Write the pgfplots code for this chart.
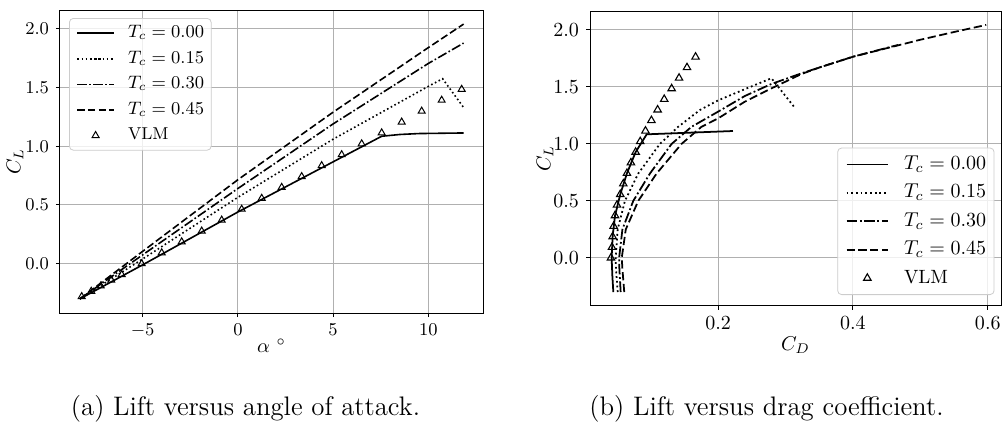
\documentclass[border=0pt]{standalone}
\usepackage{pgfplots}
\pgfplotsset{compat=1.18}
\definecolor{gridc}{RGB}{176,176,176}
\definecolor{legc}{RGB}{204,204,204}

\pgfplotsset{
  mpl/.style={
    scale only axis,
    axis line style={black, line width=0.5pt},
    grid=major,
    major grid style={gridc, line width=0.5pt},
    tick align=outside,
    major tick length=2pt,
    tick style={black, line width=0.5pt},
    tick pos=left,
    yticklabel style={/pgf/number format/.cd, fixed, fixed zerofill, precision=1},
    legend cell align=left,
    clip=true,
  },
}

\pgfplotstableread{
a cl
-8.3 -0.30
-5.0 -0.01
0.0 0.44
7.55 1.085
8.5 1.100
9.5 1.108
11.85 1.113
}\aTa
\pgfplotstableread{
a cl
-8.3 -0.30
-5.0 0.040
0.0 0.565
5.0 1.060
10.0 1.510
10.75 1.575
11.85 1.33
}\aTb
\pgfplotstableread{
a cl
-8.3 -0.30
-5.0 0.075
0.0 0.640
5.0 1.190
10.0 1.705
11.85 1.878
}\aTc
\pgfplotstableread{
a cl
-8.3 -0.30
-5.0 0.105
0.0 0.715
5.0 1.290
10.0 1.840
11.85 2.040
}\aTd
\pgfplotstableread{
a cl
-8.2 -0.280
-7.7 -0.235
-7.2 -0.190
-6.65 -0.140
-6.1 -0.093
-5.05 0.000
-4.0 0.093
-2.95 0.186
-1.9 0.278
-0.85 0.371
0.2 0.464
1.25 0.557
2.3 0.650
3.35 0.742
4.4 0.835
5.45 0.928
6.5 1.021
7.55 1.114
8.6 1.206
9.65 1.299
10.7 1.392
11.75 1.485
}\aVLM

\pgfplotstableread{
cd cl
0.0445 -0.30
0.0430 -0.15
0.0420 0.00
0.0435 0.19
0.0470 0.37
0.0548 0.557
0.0647 0.742
0.0776 0.928
0.0940 1.084
0.2220 1.113
}\bTa
\pgfplotstableread{
cd cl
0.0510 -0.30
0.0485 -0.10
0.0480 0.00
0.0510 0.25
0.0617 0.50
0.0815 0.74
0.1136 1.00
0.1407 1.15
0.1729 1.297
0.2000 1.382
0.2395 1.480
0.2790 1.576
0.3126 1.326
}\bTb
\pgfplotstableread{
cd cl
0.0554 -0.30
0.0535 -0.10
0.0531 0.00
0.0580 0.25
0.0741 0.50
0.0988 0.74
0.1310 1.00
0.1605 1.15
0.2000 1.283
0.2395 1.420
0.2790 1.526
0.3235 1.619
0.3500 1.670
0.4000 1.765
0.4667 1.868
}\bTc
\pgfplotstableread{
cd cl
0.0607 -0.30
0.0580 -0.10
0.0570 0.00
0.0630 0.25
0.0815 0.50
0.1087 0.74
0.1457 1.00
0.1753 1.15
0.2000 1.224
0.2395 1.370
0.2790 1.487
0.3235 1.613
0.3500 1.670
0.4000 1.765
0.5000 1.914
0.5500 1.982
0.5976 2.044
}\bTd
\pgfplotstableread{
cd cl
0.0410 0.000
0.0425 0.093
0.0435 0.186
0.0450 0.278
0.0470 0.371
0.0500 0.464
0.0548 0.557
0.0593 0.650
0.0647 0.742
0.0706 0.835
0.0776 0.928
0.0844 1.021
0.0922 1.114
0.1010 1.206
0.1102 1.299
0.1200 1.392
0.1310 1.485
0.1420 1.578
0.1538 1.670
0.1665 1.763
}\bVLM

\begin{document}
\begin{tikzpicture}
% ---------- (a) ----------
\begin{axis}[mpl,
  at={(30pt,-5pt)}, anchor=north west,
  width=211.5pt, height=151.5pt,
  xmin=-9.34, xmax=12.87, ymin=-0.42, ymax=2.16,
  xtick={-5,0,5,10}, ytick={0,0.5,1,1.5,2},
  tick label style={font=\fontsize{8.6}{10}\selectfont},
  label style={font=\fontsize{8.6}{10}\selectfont},
  xlabel={$\alpha$ $^\circ$}, ylabel={$C_L$},
  every axis x label/.style={at={(axis description cs:0.5,-0.131)}, anchor=base},
  every axis y label/.style={at={(axis description cs:-0.1064,0.5)}, rotate=90, anchor=center},
  legend image code/.code={\draw[mark repeat=2,mark phase=2,#1] plot coordinates {(0pt,0pt) (9.15pt,0pt) (18.3pt,0pt)};},
  legend style={draw=legc, rounded corners=2pt, fill=white, fill opacity=0.8, text opacity=1,
    inner sep=3.55pt, row sep=5.2pt, column sep=6.65pt,
    nodes={inner sep=0pt, text height=6pt, text depth=1.6pt},
    font=\fontsize{8.6}{10}\selectfont,
    at={(axis description cs:0.0213,0.9736)}, anchor=north west},
]
\addplot[black, line width=0.8pt, solid, sharp plot] table[x=a,y=cl] {\aTa};
\addlegendentry{$T_c=0.00$}
\addplot[black, line width=0.8pt, dash pattern=on 0.8pt off 1.3pt, sharp plot] table[x=a,y=cl] {\aTb};
\addlegendentry{$T_c=0.15$}
\addplot[black, line width=0.8pt, dash pattern=on 4.8pt off 1.2pt on 0.8pt off 1.2pt, sharp plot] table[x=a,y=cl] {\aTc};
\addlegendentry{$T_c=0.30$}
\addplot[black, line width=0.8pt, dash pattern=on 3.7pt off 1.6pt, sharp plot] table[x=a,y=cl] {\aTd};
\addlegendentry{$T_c=0.45$}
\addplot[black, only marks, mark=triangle, mark size=2pt, mark options={solid, line width=0.5pt, fill=none}] table[x=a,y=cl] {\aVLM};
\addlegendentry{VLM}
\end{axis}

% ---------- (b) ----------
\begin{axis}[mpl,
  at={(295pt,-5.85pt)}, anchor=north west,
  width=205.6pt, height=147pt,
  xmin=0.0099, xmax=0.6199, ymin=-0.42, ymax=2.16,
  xtick={0.2,0.4,0.6}, ytick={0,0.5,1,1.5,2},
  xticklabel style={/pgf/number format/.cd, fixed, fixed zerofill, precision=1},
  tick label style={font=\fontsize{9.6}{11}\selectfont},
  label style={font=\fontsize{9.6}{11}\selectfont},
  xlabel={$C_D$}, ylabel={$C_L$},
  every axis x label/.style={at={(axis description cs:0.5,-0.154)}, anchor=base},
  every axis y label/.style={at={(axis description cs:-0.1094,0.5)}, rotate=90, anchor=center},
  legend image code/.code={\draw[mark repeat=2,mark phase=2,#1] plot coordinates {(0pt,0pt) (10.4pt,0pt) (20.8pt,0pt)};},
  legend style={draw=legc, rounded corners=2pt, fill=white, fill opacity=0.8, text opacity=1,
    inner sep=4pt, row sep=5.7pt, column sep=7.5pt,
    nodes={inner sep=0pt, text height=6.7pt, text depth=1.8pt},
    font=\fontsize{9.6}{11}\selectfont,
    at={(axis description cs:0.9837,0.0364)}, anchor=south east},
]
\addplot[black, line width=0.88pt, solid, sharp plot] table[x=cd,y=cl] {\bTa};
\addlegendentry{$T_c=0.00$}
\addplot[black, line width=0.88pt, dash pattern=on 0.9pt off 1.45pt, sharp plot] table[x=cd,y=cl] {\bTb};
\addlegendentry{$T_c=0.15$}
\addplot[black, line width=0.88pt, dash pattern=on 5.3pt off 1.3pt on 0.9pt off 1.3pt, sharp plot] table[x=cd,y=cl] {\bTc};
\addlegendentry{$T_c=0.30$}
\addplot[black, line width=0.88pt, dash pattern=on 4.1pt off 1.8pt, sharp plot] table[x=cd,y=cl] {\bTd};
\addlegendentry{$T_c=0.45$}
\addplot[black, only marks, mark=triangle, mark size=2.15pt, mark options={solid, line width=0.55pt, fill=none}] table[x=cd,y=cl] {\bVLM};
\addlegendentry{VLM}
\end{axis}

\node[anchor=base, font=\fontsize{13.4}{16}\selectfont] at (122.75pt,-207.5pt) {(a) Lift versus angle of attack.};
\node[anchor=base, font=\fontsize{13.4}{16}\selectfont] at (383.25pt,-207.5pt) {(b) Lift versus drag coefficient.};

\pgfresetboundingbox
\useasboundingbox (0pt,0pt) rectangle (501pt,-212pt);
\end{tikzpicture}
\end{document}
